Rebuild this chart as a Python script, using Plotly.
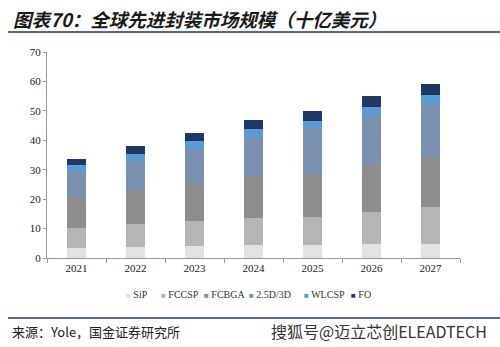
import plotly.graph_objects as go

years = ["2021", "2022", "2023", "2024", "2025", "2026", "2027"]
sip = [3.5, 3.7, 4.2, 4.3, 4.4, 4.7, 4.7]
fccsp = [6.7, 7.7, 8.4, 9.2, 9.6, 10.9, 12.7]
fcbga = [10.6, 11.6, 12.8, 14.0, 14.4, 16.2, 16.9]
d25_3d = [8.3, 10.1, 11.5, 13.3, 15.7, 16.7, 18.1]
wlcsp = [2.5, 2.3, 3.0, 3.1, 2.6, 2.9, 3.0]
fo = [2.1, 2.7, 2.6, 3.0, 3.4, 3.5, 3.8]

names = ["SiP", "FCCSP", "FCBGA", "2.5D/3D", "WLCSP", "FO"]
values = [sip, fccsp, fcbga, d25_3d, wlcsp, fo]
colors = ["#e2e2e2", "#b5b5b5", "#8d8d8d", "#7b8fae", "#5b9bd5", "#1f3864"]

serif = "Liberation Serif, DejaVu Serif, serif"

fig = go.Figure()
for name, vals, col in zip(names, values, colors):
    fig.add_trace(go.Bar(x=years, y=vals, name=name, marker=dict(color=col, line=dict(width=0))))

W, H = 500, 347
PW, PH = 413, 206  # plot area px
fig.update_layout(
    width=W, height=H,
    barmode="stack", bargap=0.69,
    plot_bgcolor="white", paper_bgcolor="white",
    margin=dict(l=47, r=40, t=52, b=89),
    showlegend=False,
    font=dict(family=serif, size=11, color="#222"),
)
fig.update_yaxes(range=[0, 70], dtick=10, showgrid=False, zeroline=False,
                 showline=True, linecolor="#999", linewidth=1,
                 ticks="outside", ticklen=3, tickcolor="#999",
                 tickfont=dict(family=serif, size=11, color="#222"))
fig.update_xaxes(showgrid=False, showline=True, linecolor="#999", linewidth=1,
                 ticks="outside", ticklen=4, tickcolor="#999", tickson="boundaries",
                 tickfont=dict(family=serif, size=11, color="#222"))

def px_x(x):
    return (x - 47) / PW

def px_y(y):
    return (258 - y) / PH

# legend drawn as text items (small coloured square + name)
legend_x = [124, 159, 202, 247, 302, 349]
for name, col, lx in zip(names, colors, legend_x):
    fig.add_annotation(xref="paper", yref="paper", x=px_x(lx), y=px_y(294), xanchor="left", yanchor="middle",
                       text=f"<span style='color:{col};font-size:8px'>■</span> {name}", showarrow=False,
                       font=dict(family=serif, size=10, color="#333"))

# title
fig.add_annotation(xref="paper", yref="paper", x=px_x(11), y=px_y(19), xanchor="left", yanchor="middle",
                   text="<b><i>图表70：全球先进封装市场规模（十亿美元）</i></b>", showarrow=False,
                   font=dict(family="Noto Sans CJK SC", size=18.5, color="#1a1a1a"))
fig.add_shape(type="line", xref="paper", yref="paper", x0=px_x(8), x1=px_x(500),
              y0=px_y(32), y1=px_y(32), line=dict(color="#1f3864", width=1.5))
# bottom rule
fig.add_shape(type="line", xref="paper", yref="paper", x0=px_x(8), x1=px_x(500),
              y0=px_y(318), y1=px_y(318), line=dict(color="#1f3864", width=1.5))
fig.add_annotation(xref="paper", yref="paper", x=px_x(10), y=px_y(331), xanchor="left", yanchor="middle",
                   text="来源：Yole，国金证券研究所", showarrow=False,
                   font=dict(family="Noto Sans CJK SC", size=13, color="#222"))
fig.add_annotation(xref="paper", yref="paper", x=px_x(489), y=px_y(331), xanchor="right", yanchor="middle",
                   text="搜狐号@迈立芯创ELEADTECH", showarrow=False,
                   font=dict(family="Noto Sans CJK SC", size=16, color="#333"))

fig.write_html("out.html")
